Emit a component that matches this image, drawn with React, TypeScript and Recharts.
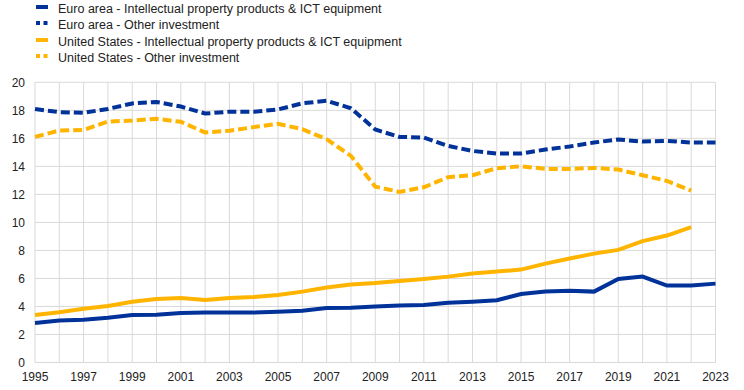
import React from 'react';
import { LineChart, Line, XAxis, YAxis, CartesianGrid } from 'recharts';

const years = [1995, 1996, 1997, 1998, 1999, 2000, 2001, 2002, 2003, 2004, 2005, 2006, 2007, 2008, 2009, 2010, 2011, 2012, 2013, 2014, 2015, 2016, 2017, 2018, 2019, 2020, 2021, 2022, 2023];

const euroAreaIpIct = [2.82, 2.99, 3.06, 3.2, 3.39, 3.4, 3.54, 3.56, 3.56, 3.56, 3.63, 3.7, 3.89, 3.9, 4.0, 4.06, 4.1, 4.27, 4.34, 4.44, 4.89, 5.06, 5.13, 5.06, 5.96, 6.13, 5.49, 5.49, 5.63];
const euroAreaOther = [18.09, 17.87, 17.82, 18.1, 18.49, 18.6, 18.27, 17.77, 17.9, 17.9, 18.06, 18.5, 18.68, 18.15, 16.63, 16.1, 16.06, 15.46, 15.1, 14.92, 14.92, 15.2, 15.42, 15.7, 15.92, 15.77, 15.82, 15.7, 15.7];
const usIpIct = [3.39, 3.58, 3.84, 4.04, 4.34, 4.54, 4.61, 4.46, 4.61, 4.68, 4.82, 5.06, 5.35, 5.56, 5.67, 5.82, 5.96, 6.13, 6.35, 6.49, 6.63, 7.06, 7.42, 7.77, 8.04, 8.66, 9.06, 9.66, null];
const usOther = [16.1, 16.56, 16.6, 17.2, 17.27, 17.39, 17.18, 16.42, 16.54, 16.8, 17.04, 16.65, 15.94, 14.75, 12.55, 12.18, 12.51, 13.23, 13.37, 13.87, 14.01, 13.82, 13.82, 13.89, 13.77, 13.37, 12.96, 12.27, null];

const yTicks = [0, 2, 4, 6, 8, 10, 12, 14, 16, 18, 20];

const seriesNames = [
  'Euro area - Intellectual property products & ICT equipment',
  'Euro area - Other investment',
  'United States - Intellectual property products & ICT equipment',
  'United States - Other investment',
];

const BLUE = '#003299';
const YELLOW = '#ffb400';

const series = [
  { key: 'eaIp', name: seriesNames[0], color: BLUE, dashed: false },
  { key: 'eaOther', name: seriesNames[1], color: BLUE, dashed: true },
  { key: 'usIp', name: seriesNames[2], color: YELLOW, dashed: false },
  { key: 'usOther', name: seriesNames[3], color: YELLOW, dashed: true },
];

const data = years.map((year, i) => ({
  year,
  eaIp: euroAreaIpIct[i],
  eaOther: euroAreaOther[i],
  usIp: usIpIct[i],
  usOther: usOther[i],
}));

const FONT = '"Liberation Sans", Arial, sans-serif';

function LegendBox() {
  return (
    <div style={{ position: 'absolute', left: 36, top: 1, fontFamily: FONT, fontSize: 12.5, color: '#222' }}>
      {series.map((s) => (
        <div key={s.key} style={{ height: 16.3, lineHeight: '16.3px', display: 'flex', alignItems: 'center', whiteSpace: 'nowrap' }}>
          <svg width={22} height={16} style={{ display: 'block' }}>
            {s.dashed ? (
              <g fill={s.color}>
                <rect x={0} y={4} width={4} height={4} />
                <rect x={7.5} y={4} width={4} height={4} />
              </g>
            ) : (
              <rect x={0} y={4} width={12} height={4} fill={s.color} />
            )}
          </svg>
          <span>{s.name}</span>
        </div>
      ))}
    </div>
  );
}

export default function App() {
  return (
    <div style={{ position: 'absolute', left: 0, top: 0, width: 744, height: 390, background: '#fff', fontFamily: FONT }}>
      <LineChart width={744} height={390} data={data} margin={{ top: 82.3, right: 28.5, left: 0, bottom: 0 }}>
        <CartesianGrid stroke="#d9d9d9" strokeWidth={1} />
        <XAxis
          dataKey="year"
          type="number"
          domain={[1995, 2023]}
          ticks={years}
          interval={0}
          tickFormatter={(v: number) => ((v - 1995) % 2 === 0 ? String(v) : '')}
          axisLine={false}
          tickLine={false}
          tickSize={0}
          tickMargin={10}
          height={27.5}
          tick={{ fill: '#222', fontSize: 12, fontFamily: FONT }}
        />
        <YAxis
          type="number"
          domain={[0, 20]}
          ticks={yTicks}
          interval={0}
          axisLine={false}
          tickLine={false}
          tickSize={0}
          tickMargin={10}
          width={35}
          tick={{ fill: '#222', fontSize: 12, fontFamily: FONT }}
        />
        {series.map((s) => (
          <Line
            key={s.key}
            dataKey={s.key}
            name={s.name}
            type="linear"
            stroke={s.color}
            strokeWidth={4}
            strokeDasharray={s.dashed ? '9 4' : undefined}
            dot={false}
            activeDot={false}
            isAnimationActive={false}
            connectNulls={false}
          />
        ))}
      </LineChart>
      <LegendBox />
    </div>
  );
}
